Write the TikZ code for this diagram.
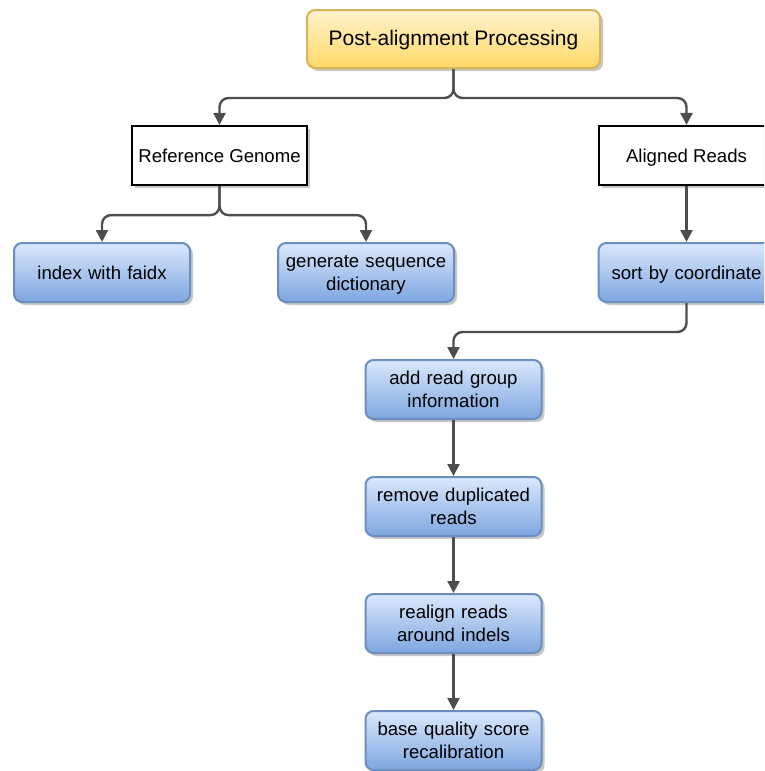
\documentclass[tikz,border=0pt]{standalone}
\usepackage{fontspec}
\setmainfont{Liberation Sans}
\usetikzlibrary{arrows.meta,shadows}
\definecolor{bluetop}{HTML}{DAE8FC}
\definecolor{bluebot}{HTML}{7EA6E0}
\definecolor{blueline}{HTML}{6C8EBF}
\definecolor{yeltop}{HTML}{FFF2CC}
\definecolor{yelbot}{HTML}{FFD966}
\definecolor{yelline}{HTML}{D6B656}
\definecolor{conn}{HTML}{4D4D4D}
\newcommand{\st}{\rule[-7pt]{0pt}{27.4pt}}
\newcommand{\stb}{\rule[-7pt]{0pt}{23.4pt}}
\tikzset{
  shad/.style={drop shadow={shadow xshift=3pt,shadow yshift=-3pt,fill=black,opacity=.22}},
  bluebox/.style={shad,draw=blueline,line width=2pt,rounded corners=8pt,
    top color=bluetop,bottom color=bluebot,minimum width=176pt,minimum height=59pt,
    align=center,text width=170pt,inner sep=0pt,
    font=\fontsize{18.6}{23.5}\selectfont},
  plainbox/.style={shad,draw=black,fill=white,line width=2.2pt,
    minimum width=175pt,minimum height=59pt,align=center,inner sep=0pt,
    font=\fontsize{18.6}{23.5}\selectfont},
  topbox/.style={shad,draw=yelline,line width=2pt,rounded corners=8pt,
    top color=yeltop,bottom color=yelbot,minimum width=293pt,minimum height=58pt,
    align=center,inner sep=0pt,font=\fontsize{21}{26.5}\selectfont},
  link/.style={draw=conn,line width=2.4pt,rounded corners=9pt,
    -{Triangle[length=12pt,width=12pt]}}
}
\begin{document}
\begin{tikzpicture}[x=1pt,y=-1pt]
\clip (0,0) rectangle (764,771);
\useasboundingbox (0,0) rectangle (764,771);
\node[topbox] (top) at (453.5,39) {\st Post-alignment Processing};
\node[plainbox] (ref) at (219.5,155.5) {\st Reference Genome};
\node[plainbox] (aln) at (686.5,155.5) {\st Aligned Reads};
\node[bluebox] (idx) at (102,272.5) {\st index with faidx};
\node[bluebox] (gen) at (366,272.5) {\st generate sequence\\\stb dictionary};
\node[bluebox] (sort) at (686.5,272.5) {\st sort by coordinate};
\node[bluebox] (add) at (453.5,389.5) {\st add read group\\\stb information};
\node[bluebox] (rem) at (453.5,506.5) {\st remove duplicated\\\stb reads};
\node[bluebox] (rea) at (453.5,623.5) {\st realign reads\\\stb around indels};
\node[bluebox] (bas) at (453.5,740.5) {\st base quality score\\\stb recalibration};
\draw[link] (top.south) -- ++(0,29) -| (ref.north);
\draw[link] (top.south) -- ++(0,29) -| (aln.north);
\draw[link] (ref.south) -- ++(0,29) -| (idx.north);
\draw[link] (ref.south) -- ++(0,29) -| (gen.north);
\draw[link] (aln.south) -- (sort.north);
\draw[link] (sort.south) -- ++(0,29) -| (add.north);
\draw[link] (add.south) -- (rem.north);
\draw[link] (rem.south) -- (rea.north);
\draw[link] (rea.south) -- (bas.north);
\end{tikzpicture}
\end{document}
